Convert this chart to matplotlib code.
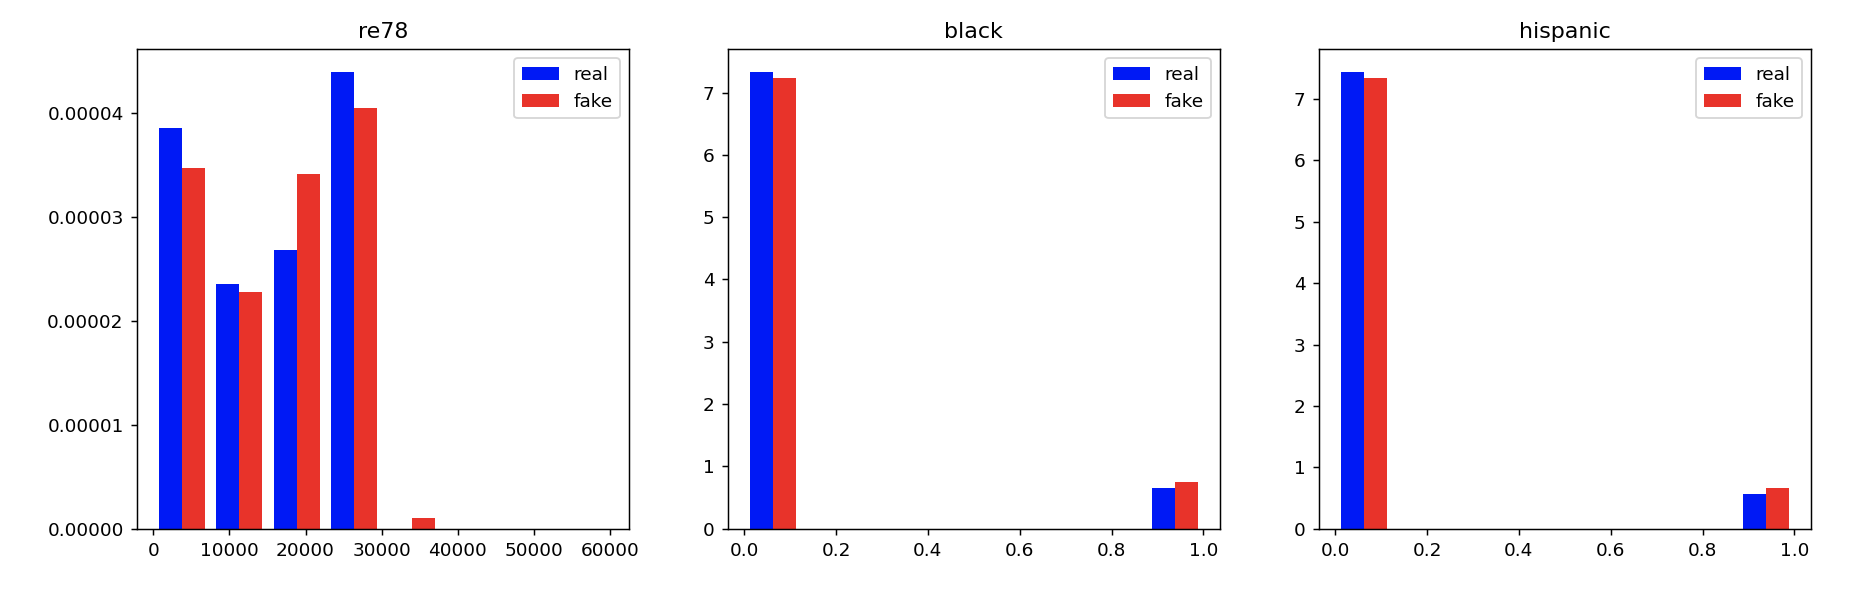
import matplotlib
matplotlib.use('Agg')
import matplotlib.pyplot as plt
import numpy as np
from matplotlib.ticker import FormatStrFormatter

# density histograms, 8 bins each
n_bins = 8
re78_max = 60307.93
re78_real = [3.853e-5, 2.351e-5, 2.679e-5, 4.392e-5, 0, 0, 0, 0]
re78_fake = [3.471e-5, 2.274e-5, 3.413e-5, 4.045e-5, 0.099e-5, 0, 0, 0]

black_real = [7.33, 0, 0, 0, 0, 0, 0, 0.65]
black_fake = [7.24, 0, 0, 0, 0, 0, 0, 0.75]

hispanic_real = [7.44, 0, 0, 0, 0, 0, 0, 0.56]
hispanic_fake = [7.34, 0, 0, 0, 0, 0, 0, 0.66]

labels = ['real', 'fake']
colors = ['#0019f5', '#e8332a']


def plot_hist(ax, title, lo, hi, real, fake):
    edges = np.linspace(lo, hi, n_bins + 1)
    centers = (edges[:-1] + edges[1:]) / 2
    ax.hist([centers, centers], bins=edges, weights=[real, fake],
            color=colors, label=labels)
    ax.set_title(title)
    ax.legend(loc='upper right')


dpi = 133
fig, axes = plt.subplots(1, 3, figsize=(1864 / dpi, 592 / dpi), dpi=dpi)
fig.subplots_adjust(left=0.0733, right=0.9716, bottom=0.107, top=0.917, wspace=0.2)

plot_hist(axes[0], 're78', 0, re78_max, re78_real, re78_fake)
axes[0].yaxis.set_major_formatter(FormatStrFormatter('%.5f'))
axes[0].set_yticks([0, 1e-5, 2e-5, 3e-5, 4e-5])

plot_hist(axes[1], 'black', 0, 1, black_real, black_fake)
plot_hist(axes[2], 'hispanic', 0, 1, hispanic_real, hispanic_fake)

fig.savefig('out.png', dpi=dpi)
